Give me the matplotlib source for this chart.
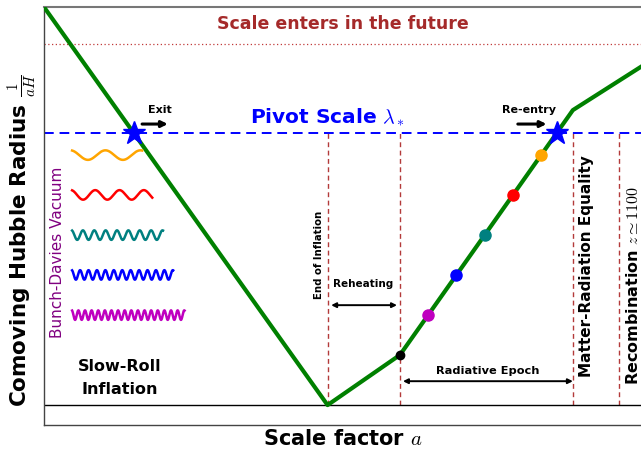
import numpy as np
import matplotlib
matplotlib.use("Agg")
import matplotlib.pyplot as plt

plt.rcParams['font.family'] = ['DejaVu Sans']
plt.rcParams['mathtext.fontset'] = 'cm'

# Comoving Hubble radius vs. scale factor (schematic, arbitrary units)
knots_x = [0.0, 4.74, 5.95, 8.84, 10.0]
knots_y = [10.0, 0.0, 1.26, 7.41, 8.52]
pivot_level = 6.83
future_level = 9.07
# end of inflation, end of reheating, matter-radiation equality, recombination
epoch_x = [4.74, 5.95, 8.84, 9.61]

# Bunch-Davies vacuum modes
wave_levels = [6.28, 5.28, 4.27, 3.27, 2.26]
wave_colors = ['orange', 'red', 'teal', 'blue', 'm']
wave_start = 0.47
wave_ends = [1.64, 1.81, 1.99, 2.16, 2.35]
wave_cycles = [2.0, 3.3, 8.0, 12.0, 17.0]
wave_amp = 0.12

fig = plt.figure(figsize=(6.41, 4.5), dpi=100)
ax = fig.add_axes([0.0686, 0.0556, 0.9334, 0.9288])
ax.set_xlim(0, 10)
ax.set_ylim(-0.5, 10)
ax.set_xticks([])
ax.set_yticks([])
for s in ax.spines.values():
    s.set_color('#444444')
    s.set_linewidth(1.0)
ax.spines['top'].set_color('#777777')
ax.spines['top'].set_linewidth(1.5)

# horizon curve
ax.plot(knots_x, knots_y, color='green', lw=3.0, zorder=3, solid_capstyle='butt')
ax.axhline(0, color='black', lw=1.0, zorder=2)

# pivot scale and future scale
ax.axhline(pivot_level, color='blue', lw=1.4, ls=(0, (5, 3)), zorder=2)
ax.axhline(future_level, color='#c03a3a', lw=0.9, ls=(0, (1, 2)), zorder=2)

# epoch boundaries
for xv in epoch_x:
    ax.plot([xv, xv], [0, pivot_level], color='#b33a3a', lw=1.0,
            ls=(0, (3.5, 2.5)), zorder=1)

# horizon exit / re-entry of the pivot scale
x_exit = np.interp(pivot_level, knots_y[1::-1], knots_x[1::-1])
x_reentry = np.interp(pivot_level, knots_y[2:4], knots_x[2:4])
ax.plot([x_exit, x_reentry], [pivot_level, pivot_level], ls='none',
        marker='*', ms=17, color='blue', zorder=5)

# modes crossing back inside the horizon in the radiative epoch
dot_x = np.interp(wave_levels, knots_y[2:4], knots_x[2:4])
for xv, yv, c in zip(dot_x, wave_levels, wave_colors):
    ax.plot(xv, yv, 'o', ms=8, color=c, zorder=4)
ax.plot(knots_x[2], knots_y[2], 'o', ms=6, color='black', zorder=4)

# wavy modes
for yv, xe, n, c in zip(wave_levels, wave_ends, wave_cycles, wave_colors):
    t = np.linspace(0, 1, 600)
    xs = wave_start + (xe - wave_start) * t
    ys = yv + wave_amp * np.cos(2 * np.pi * n * t + 0.3)
    ax.plot(xs, ys, color=c, lw=1.8, zorder=3)

# annotations
ax.text(4.99, 9.57, 'Scale enters in the future', color='#a52a2a',
        fontsize=12.5, fontweight='bold', ha='center', va='center')
ax.text(4.74, 7.24, r'Pivot Scale $\lambda_*$', color='blue',
        fontsize=14.5, fontweight='bold', ha='center', va='center')

ax.text(1.94, 7.41, 'Exit', fontsize=8, fontweight='bold',
        ha='center', va='center')
ax.annotate('', xy=(2.07, 7.06), xytext=(1.64, 7.06),
            arrowprops=dict(arrowstyle='-|>', color='black', lw=2.2,
                            mutation_scale=9, shrinkA=0, shrinkB=0))
ax.text(8.11, 7.41, 'Re-entry', fontsize=8, fontweight='bold',
        ha='center', va='center')
ax.annotate('', xy=(8.40, 7.06), xytext=(7.92, 7.06),
            arrowprops=dict(arrowstyle='-|>', color='black', lw=2.2,
                            mutation_scale=9, shrinkA=0, shrinkB=0))

ax.text(4.59, 3.77, 'End of Inflation', fontsize=7.3, fontweight='bold',
        rotation=90, ha='center', va='center')
ax.text(5.34, 3.04, 'Reheating', fontsize=7.5, fontweight='bold',
        ha='center', va='center')
ax.annotate('', xy=(5.90, 2.51), xytext=(4.80, 2.51),
            arrowprops=dict(arrowstyle='<|-|>', color='black', lw=1.4,
                            mutation_scale=7, shrinkA=0, shrinkB=0))
ax.text(7.42, 0.85, 'Radiative Epoch', fontsize=8.2, fontweight='bold',
        ha='center', va='center')
ax.annotate('', xy=(8.84, 0.60), xytext=(6.00, 0.60),
            arrowprops=dict(arrowstyle='<|-|>', color='black', lw=1.4,
                            mutation_scale=7, shrinkA=0, shrinkB=0))

ax.text(9.06, 3.49, 'Matter-Radiation Equality', fontsize=11,
        fontweight='bold', rotation=90, ha='center', va='center')
ax.text(9.85, 3.02, r'Recombination $z\simeq1100$', fontsize=11.5,
        fontweight='bold', rotation=90, ha='center', va='center')

ax.text(0.23, 3.84, 'Bunch-Davies Vacuum', fontsize=11, color='purple',
        rotation=90, ha='center', va='center')
ax.text(1.27, 0.68, 'Slow-Roll\nInflation', fontsize=11.5, fontweight='bold',
        ha='center', va='center', linespacing=1.65)

ax.set_xlabel(r'Scale factor $a$', fontsize=15, fontweight='bold', labelpad=3)
ax.set_ylabel(r'Comoving Hubble Radius $\frac{1}{aH}$', fontsize=15.5,
              fontweight='bold', va='center')
ax.yaxis.set_label_coords(-0.037, 0.443)

fig.savefig('out.png', dpi=100)
